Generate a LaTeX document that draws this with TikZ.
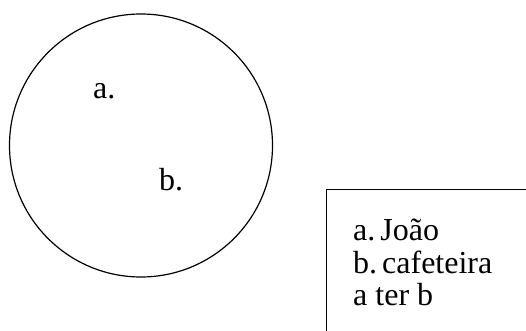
\documentclass[tikz,border=0pt]{standalone}
\usepackage{fontspec}
\setmainfont{Liberation Serif}
\usetikzlibrary{positioning}

\begin{document}
\begin{tikzpicture}[x=1pt,y=-1pt,
    lbl/.style={anchor=base west,inner sep=0pt,font=\fontsize{32}{33}\selectfont}]
      \useasboundingbox (0,0) rectangle (526,331);
      \clip (0,0) rectangle (526,331);

      % Set
      \node[draw,circle,line width=1.2pt,minimum size=263pt,inner sep=0pt] (set) at (141,145.5) {};
      \node[lbl] (a) at (93,99) {a.};
      \node[lbl] (b) at (159,190) {b.};

      % Legend box
      \node[draw,line width=1.2pt,anchor=north west,minimum width=220pt,minimum height=160pt] (box) at (326,189) {};
      \node[lbl] (l1) at (353,240) {a.\hspace{5pt}João};
      \node[lbl] (l2) at (353,273) {b.\hspace{5pt}cafeteira};
      \node[lbl] (l3) at (353,305) {a ter b};
    \end{tikzpicture}
\end{document}
